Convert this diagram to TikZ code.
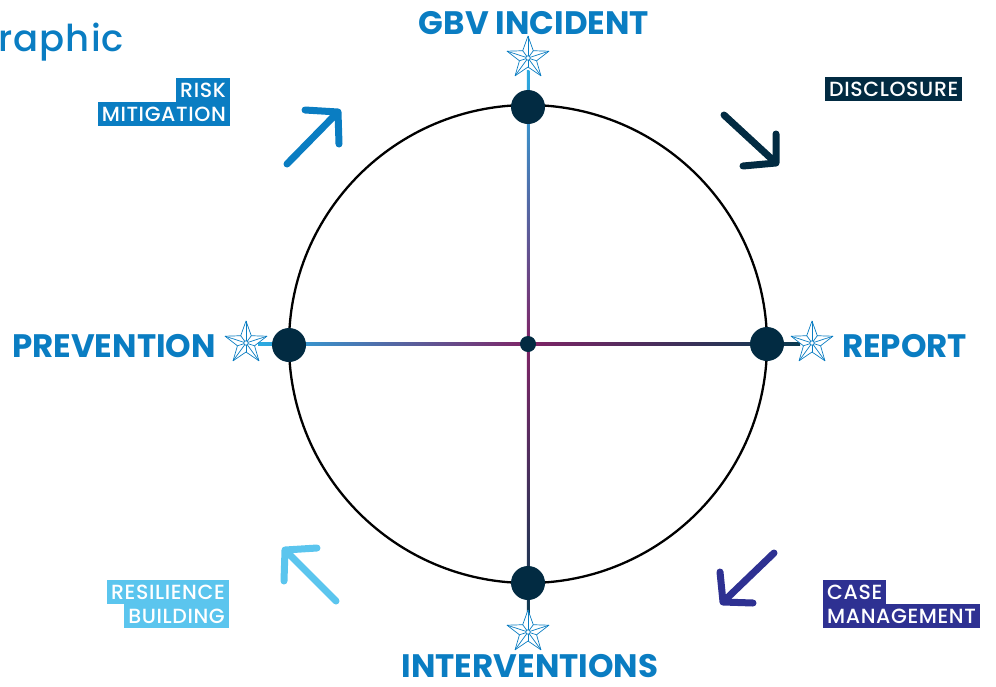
\documentclass[tikz,border=0pt]{standalone}
\usepackage{fontspec}
\setmainfont{Poppins}
\newfontfamily\tagfont{Poppins Medium}[LetterSpace=3]
\usetikzlibrary{positioning}

\definecolor{gbvblue}{HTML}{0A7DC2}
\definecolor{gbvnavy}{HTML}{022B42}
\definecolor{gbvindigo}{HTML}{2E3192}
\definecolor{gbvsky}{HTML}{5BC5EE}
\definecolor{gbvcyan}{HTML}{29ABE2}
\definecolor{gbvplum}{HTML}{7F2466}
\definecolor{gbvdeep}{HTML}{0B3A50}

\tikzset{
  heading/.style={text=gbvblue, font=\fontsize{32.5}{32}\selectfont\bfseries, inner sep=0pt},
  tag/.style={fill=#1, text=white, font=\tagfont\fontsize{20.5}{20}\selectfont,
    inner xsep=4pt, inner ysep=4.5pt, text height=15pt, text depth=0pt},
  bigdot/.style={circle, fill=gbvnavy, minimum size=34pt, inner sep=0pt},
  cyclearrow/.style={draw=#1, line width=7pt, line cap=round, line join=round},
  starline/.style={draw=gbvblue, line width=0.7pt, line join=round},
  facetstar/.pic={
    \filldraw[starline, fill=white] (-90:22) -- (-54:9) -- (-18:22) -- (18:9) -- (54:22)
      -- (90:9) -- (126:22) -- (162:9) -- (198:22) -- (234:9) -- cycle;
    \foreach \k in {0,...,4}{
      \draw[starline] (0,0) -- (-90+72*\k:22);
      \draw[starline] (0,0) -- (-54+72*\k:9);
    }
    \filldraw[starline, fill=white] (0,0) circle (2.2);
  }
}

\begin{document}
\begin{tikzpicture}[x=1pt, y=-1pt]
  \useasboundingbox (0,0) rectangle (996,686);

  % Title
  \node[anchor=base west, inner sep=0pt, text=gbvblue, font=\tagfont\fontsize{37}{37}\selectfont]
    (title) at (-2,51) {raphic};

  % Centre and star spots
  \coordinate (hub) at (528,344);
  \coordinate (startop) at (528,58);
  \coordinate (starbottom) at (528,632);
  \coordinate (starleft) at (246,343);
  \coordinate (starright) at (812,343);

  % Gradient cross
  \shade[top color=gbvcyan, bottom color=gbvplum] (526.8,70) rectangle (529.4,344);
  \shade[top color=gbvplum, middle color=gbvindigo, bottom color=gbvdeep] (526.8,344) rectangle (529.4,620);
  \shade[left color=gbvcyan, right color=gbvplum] (258,342.7) rectangle (528,345.3);
  \shade[left color=gbvplum, middle color=gbvindigo, right color=gbvdeep] (528,342.7) rectangle (800,345.3);

  % Circle
  \draw[line width=2.3pt] (hub) circle (239);

  % Dots
  \node[bigdot] (incident) at (528,107) {};
  \node[bigdot] (report) at (767,344) {};
  \node[bigdot] (interventions) at (528,583) {};
  \node[bigdot] (prevention) at (289,345) {};
  \node[circle, fill=gbvnavy, minimum size=16pt, inner sep=0pt] (centre) at (hub) {};

  % Stars
  \pic at (startop) {facetstar};
  \pic at (starbottom) {facetstar};
  \pic at (starleft) {facetstar};
  \pic at (starright) {facetstar};

  % Headings
  \node[heading] (incidentlbl) at (534,23) {GBV INCIDENT};
  \node[heading, anchor=east] (preventionlbl) at (216,346) {PREVENTION};
  \node[heading, anchor=west] (reportlbl) at (842,346) {REPORT};
  \node[heading] (interventionslbl) at (530,666) {INTERVENTIONS};

  % Tags
  \node[tag=gbvblue, anchor=north east] (mitigation) at (230,102) {MITIGATION};
  \node[tag=gbvblue, anchor=south east] (risk) at (mitigation.north east) {RISK};
  \node[tag=gbvnavy, anchor=north west] (disclosure) at (825,77) {DISCLOSURE};
  \node[tag=gbvindigo, anchor=north west] (management) at (823,604) {MANAGEMENT};
  \node[tag=gbvindigo, anchor=south west] (case) at (management.north west) {CASE};
  \node[tag=gbvsky, anchor=north east] (building) at (229,604) {BUILDING};
  \node[tag=gbvsky, anchor=south east] (resilience) at (building.north east) {RESILIENCE};

  % Arrows
  \draw[cyclearrow=gbvblue] (287,164) -- (338,112) (305,110) -- (338,112) -- (339,144);
  \draw[cyclearrow=gbvnavy] (724,115) -- (776,163) (743,166) -- (776,163) -- (776,134);
  \draw[cyclearrow=gbvindigo] (774,553) -- (723,602) (720,572) -- (723,602) -- (753,603);
  \draw[cyclearrow=gbvsky] (336,601) -- (285,550) (284,581) -- (285,550) -- (317,548);

\end{tikzpicture}
\end{document}
